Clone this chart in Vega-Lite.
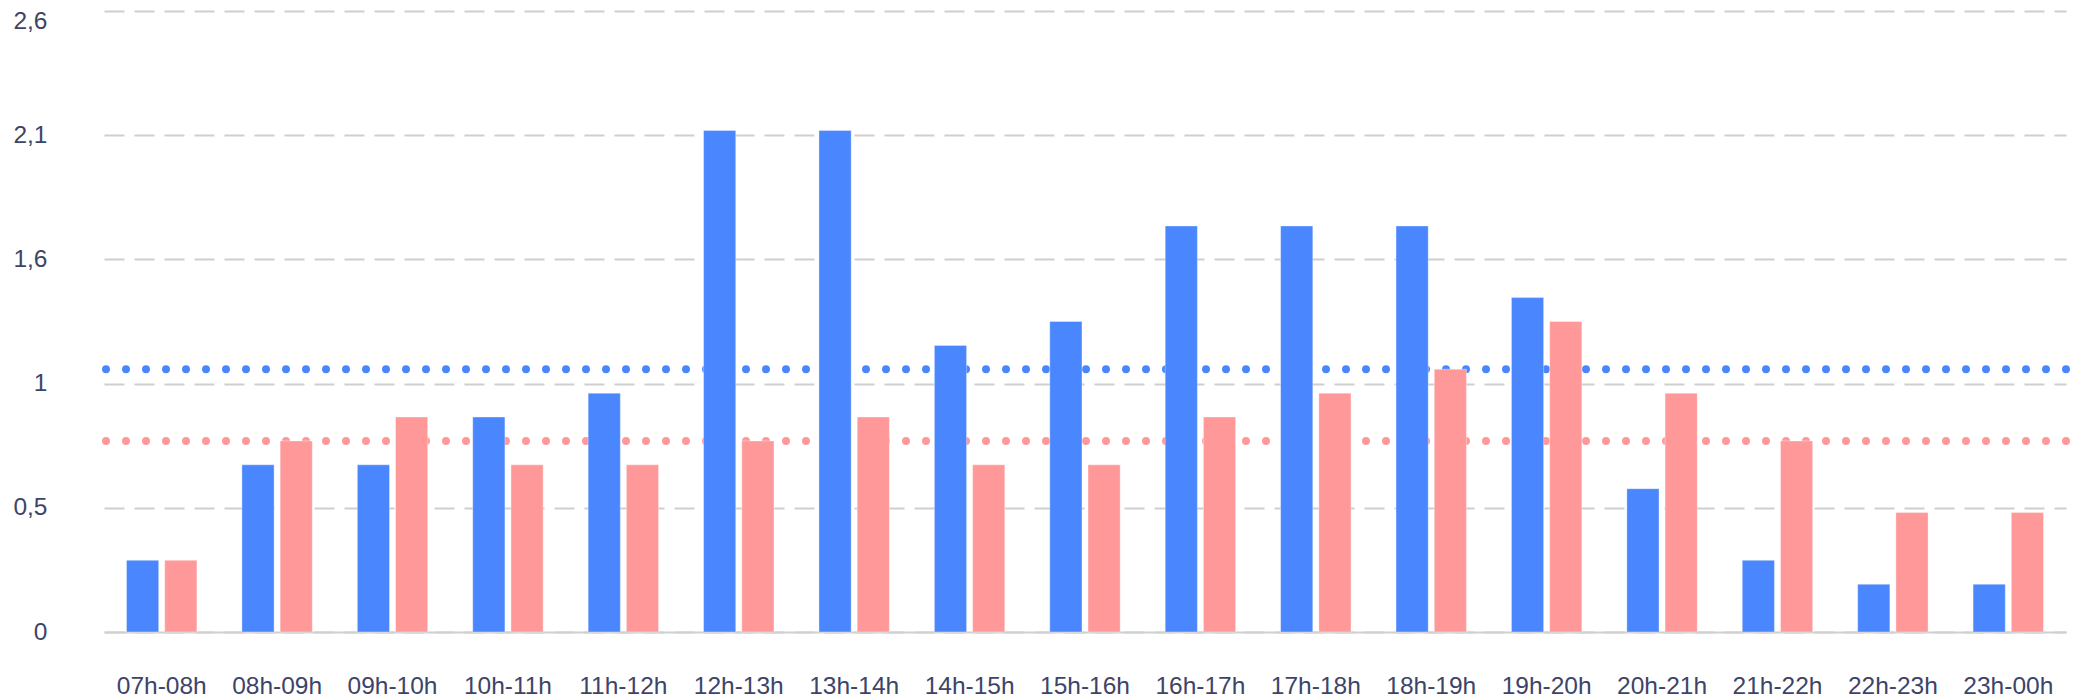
{
  "$schema": "https://vega.github.io/schema/vega-lite/v6.json",
  "autosize": "none",
  "width": 1962,
  "height": 621,
  "padding": {"left": 104, "top": 11, "right": 14, "bottom": 67},
  "background": "white",
  "config": {
    "view": {"stroke": null},
    "font": "Liberation Sans",
    "axis": {"labelFont": "Liberation Sans", "labelFontSize": 24.5, "labelColor": "#3d4468", "ticks": false, "title": null}
  },
  "datasets": {
    "bars": [
      {"hour": "07h-08h", "serie": "A", "value": 0.3}, {"hour": "07h-08h", "serie": "B", "value": 0.3},
      {"hour": "08h-09h", "serie": "A", "value": 0.7}, {"hour": "08h-09h", "serie": "B", "value": 0.8},
      {"hour": "09h-10h", "serie": "A", "value": 0.7}, {"hour": "09h-10h", "serie": "B", "value": 0.9},
      {"hour": "10h-11h", "serie": "A", "value": 0.9}, {"hour": "10h-11h", "serie": "B", "value": 0.7},
      {"hour": "11h-12h", "serie": "A", "value": 1.0}, {"hour": "11h-12h", "serie": "B", "value": 0.7},
      {"hour": "12h-13h", "serie": "A", "value": 2.1}, {"hour": "12h-13h", "serie": "B", "value": 0.8},
      {"hour": "13h-14h", "serie": "A", "value": 2.1}, {"hour": "13h-14h", "serie": "B", "value": 0.9},
      {"hour": "14h-15h", "serie": "A", "value": 1.2}, {"hour": "14h-15h", "serie": "B", "value": 0.7},
      {"hour": "15h-16h", "serie": "A", "value": 1.3}, {"hour": "15h-16h", "serie": "B", "value": 0.7},
      {"hour": "16h-17h", "serie": "A", "value": 1.7}, {"hour": "16h-17h", "serie": "B", "value": 0.9},
      {"hour": "17h-18h", "serie": "A", "value": 1.7}, {"hour": "17h-18h", "serie": "B", "value": 1.0},
      {"hour": "18h-19h", "serie": "A", "value": 1.7}, {"hour": "18h-19h", "serie": "B", "value": 1.1},
      {"hour": "19h-20h", "serie": "A", "value": 1.4}, {"hour": "19h-20h", "serie": "B", "value": 1.3},
      {"hour": "20h-21h", "serie": "A", "value": 0.6}, {"hour": "20h-21h", "serie": "B", "value": 1.0},
      {"hour": "21h-22h", "serie": "A", "value": 0.3}, {"hour": "21h-22h", "serie": "B", "value": 0.8},
      {"hour": "22h-23h", "serie": "A", "value": 0.2}, {"hour": "22h-23h", "serie": "B", "value": 0.5},
      {"hour": "23h-00h", "serie": "A", "value": 0.2}, {"hour": "23h-00h", "serie": "B", "value": 0.5}
    ],
    "avg": [
      {"serie": "A", "value": 1.1},
      {"serie": "B", "value": 0.8}
    ]
  },
  "layer": [
    {
      "data": {"name": "avg"},
      "mark": {"type": "rule", "strokeWidth": 8, "strokeDash": [0, 20], "strokeCap": "round"},
      "encoding": {
        "y": {"field": "value", "type": "quantitative", "scale": {"domain": [0, 2.6], "nice": false, "zero": true},
          "axis": {"values": [0, 0.52, 1.04, 1.56, 2.08, 2.6], "labelExpr": "replace(format(datum.value, '.1~f'), '.', ',')", "domain": false, "grid": true, "gridColor": "#cfcfcf", "gridWidth": 2, "gridDash": [20, 10], "labelPadding": 57, "labelBaseline": "middle",
            "labelOffset": {"condition": {"test": "datum.value >= 2.6", "value": 10}, "value": 0}}},
        "color": {"field": "serie", "type": "nominal", "scale": {"domain": ["A", "B"], "range": ["#4a86fe", "#ff9999"]}, "legend": null}
      }
    },
    {
      "data": {"name": "bars"},
      "mark": {"type": "bar", "stroke": "#ffffff", "strokeOpacity": 0.35, "strokeWidth": 1},
      "encoding": {
        "x": {"field": "hour", "type": "nominal", "sort": null, "scale": {"paddingInner": 0.39, "paddingOuter": 0.195},
          "axis": {"labelAngle": 0, "domain": true, "domainColor": "#d0d0d0", "domainWidth": 2, "labelPadding": 42, "grid": false}},
        "xOffset": {"field": "serie", "type": "nominal", "scale": {"paddingInner": 0.158, "paddingOuter": 0}},
        "y": {"field": "value", "type": "quantitative"},
        "color": {"field": "serie", "type": "nominal", "legend": null}
      }
    }
  ]
}
